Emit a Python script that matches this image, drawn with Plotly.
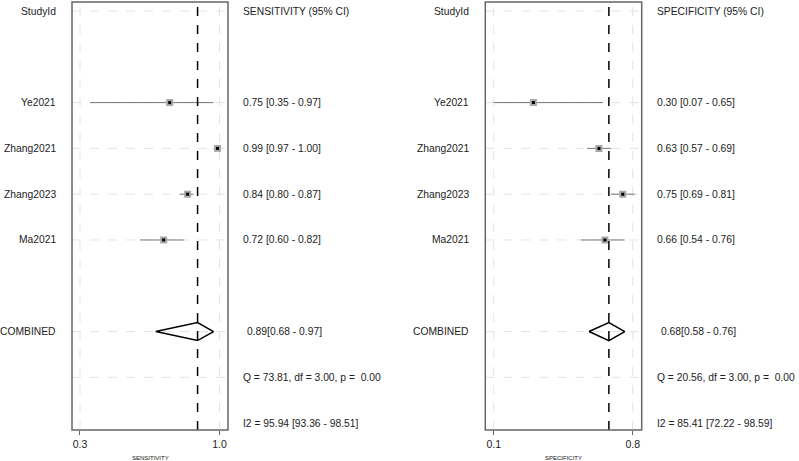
import plotly.graph_objects as go
import numpy as np

studies = ["Ye2021", "Zhang2021", "Zhang2023", "Ma2021"]
sens = [0.75, 0.99, 0.84, 0.72]
sens_lo = [0.35, 0.97, 0.80, 0.60]
sens_hi = [0.97, 1.00, 0.87, 0.82]
spec = [0.30, 0.63, 0.75, 0.66]
spec_lo = [0.07, 0.57, 0.69, 0.54]
spec_hi = [0.65, 0.69, 0.81, 0.76]
sens_pooled = [0.89, 0.68, 0.97]
spec_pooled = [0.68, 0.58, 0.76]
sens_q = "Q = 73.81, df = 3.00, p =  0.00"
spec_q = "Q = 20.56, df = 3.00, p =  0.00"
sens_i2 = "I2 = 95.94 [93.36 - 98.51]"
spec_i2 = "I2 = 85.41 [72.22 - 98.59]"
sens_ticks = [0.3, 1.0]
spec_ticks = [0.1, 0.8]

study_rows = [2, 3, 4, 5]
comb_row, q_row, i2_row = 7, 8, 9

W, H = 799, 461
FONT = "Liberation Sans, Arial, sans-serif"
FS = 10.3

fig = go.Figure()

panels = [
    dict(xa="x", ya="y", axn="xaxis", yn="yaxis", dom=(72 / W, 228 / W), rng=[0.2599, 1.0427],
         est=sens, lo=sens_lo, hi=sens_hi, pooled=sens_pooled, ticks=sens_ticks,
         title="SENSITIVITY", head="SENSITIVITY (95% CI)", q=sens_q, i2=sens_i2,
         lab_x=58, txt_x=241, comb_x=245),
    dict(xa="x2", ya="y2", axn="xaxis2", yn="yaxis2", dom=(485.3 / W, 641.7 / W), rng=[0.0577, 0.8453],
         est=spec, lo=spec_lo, hi=spec_hi, pooled=spec_pooled, ticks=spec_ticks,
         title="SPECIFICITY", head="SPECIFICITY (95% CI)", q=spec_q, i2=spec_i2,
         lab_x=471, txt_x=655, comb_x=659),
]

yrange = [9.15, -0.197]
ydom = [1 - 430 / H, 1 - 2 / H]
shapes = []
annotations = []

for p in panels:
    xa, ya = p["xa"], p["ya"]
    tmin = min(p["ticks"])
    for r in [0] + study_rows + [comb_row, q_row]:
        shapes.append(dict(type="line", xref=f"{xa} domain", yref=ya, x0=0, x1=1, y0=r, y1=r,
                           line=dict(color="#e3e3e3", width=1, dash="dash"), layer="below"))
    for t in p["ticks"]:
        shapes.append(dict(type="line", xref=xa, yref=f"{ya} domain", x0=t, x1=t, y0=0, y1=1,
                           line=dict(color="#e3e3e3", width=1, dash="dash"), layer="below"))
    shapes.append(dict(type="line", xref=xa, yref=f"{ya} domain", x0=p["pooled"][0], x1=p["pooled"][0],
                       y0=0, y1=1, line=dict(color="black", width=1.5, dash="dash")))
    shapes.append(dict(type="rect", xref=f"{xa} domain", yref=f"{ya} domain", x0=0, x1=1, y0=0, y1=1,
                       line=dict(color="#666666", width=1.5)))
    for i, r in enumerate(study_rows):
        lo = max(p["lo"][i], tmin)
        fig.add_trace(go.Scatter(x=[lo, p["hi"][i]], y=[r, r], mode="lines",
                                 line=dict(color="#777777", width=1), xaxis=xa, yaxis=ya,
                                 showlegend=False, hoverinfo="skip"))
    fig.add_trace(go.Scatter(x=p["est"], y=study_rows, mode="markers",
                             marker=dict(symbol="square", size=7, color="#a8a8a8"),
                             xaxis=xa, yaxis=ya, showlegend=False))
    fig.add_trace(go.Scatter(x=p["est"], y=study_rows, mode="markers",
                             marker=dict(symbol="square", size=3, color="black"),
                             xaxis=xa, yaxis=ya, showlegend=False))
    est, clo, chi = p["pooled"]
    dh = 0.197
    fig.add_trace(go.Scatter(x=[clo, est, chi, est, clo], y=[comb_row, comb_row - dh, comb_row, comb_row + dh, comb_row],
                             mode="lines", line=dict(color="black", width=1.5),
                             xaxis=xa, yaxis=ya, showlegend=False, hoverinfo="skip"))
    annotations.append(dict(text="StudyId", x=p["lab_x"] / W, xref="paper", y=0, yref=ya,
                            xanchor="right", yanchor="middle", showarrow=False))
    for i, r in enumerate(study_rows):
        annotations.append(dict(text=studies[i], x=p["lab_x"] / W, xref="paper", y=r, yref=ya,
                                xanchor="right", yanchor="middle", showarrow=False))
        annotations.append(dict(text=f"{p['est'][i]:.2f} [{p['lo'][i]:.2f} - {p['hi'][i]:.2f}]",
                                x=p["txt_x"] / W, xref="paper", y=r, yref=ya,
                                xanchor="left", yanchor="middle", showarrow=False))
    annotations.append(dict(text="COMBINED", x=p["lab_x"] / W, xref="paper", y=comb_row, yref=ya,
                            xanchor="right", yanchor="middle", showarrow=False))
    annotations.append(dict(text=p["head"], x=p["txt_x"] / W, xref="paper", y=0, yref=ya,
                            xanchor="left", yanchor="middle", showarrow=False))
    annotations.append(dict(text=f"{est:.2f}[{clo:.2f} - {chi:.2f}]", x=p["comb_x"] / W, xref="paper",
                            y=comb_row, yref=ya, xanchor="left", yanchor="middle", showarrow=False))
    annotations.append(dict(text=p["q"], x=p["txt_x"] / W, xref="paper", y=q_row, yref=ya,
                            xanchor="left", yanchor="middle", showarrow=False))
    annotations.append(dict(text=p["i2"], x=p["txt_x"] / W, xref="paper", y=i2_row, yref=ya,
                            xanchor="left", yanchor="middle", showarrow=False))
    annotations.append(dict(text=p["title"], x=(p["dom"][0] + p["dom"][1]) / 2, xref="paper",
                            y=1 - 458 / H, yref="paper", xanchor="center", yanchor="middle",
                            showarrow=False, font=dict(size=6, color="#111111")))

layout = dict(
    width=W, height=H, margin=dict(l=0, r=0, t=0, b=0),
    paper_bgcolor="white", plot_bgcolor="white",
    font=dict(family=FONT, size=FS, color="#222222"),
    shapes=shapes, annotations=annotations, showlegend=False,
)
for p in panels:
    layout[p["axn"]] = dict(domain=list(p["dom"]), range=p["rng"], tickvals=p["ticks"],
                            ticktext=[f"{t:.1f}" for t in p["ticks"]], ticks="outside", ticklen=4,
                            tickcolor="#666666", tickfont=dict(size=10.5), showgrid=False, zeroline=False,
                            showline=False, anchor=p["ya"], fixedrange=True)
    layout[p["yn"]] = dict(domain=ydom, range=yrange, showticklabels=False, showgrid=False,
                           zeroline=False, showline=False, anchor=p["xa"], fixedrange=True)

fig.update_layout(**layout)
fig.write_html("out.html")
